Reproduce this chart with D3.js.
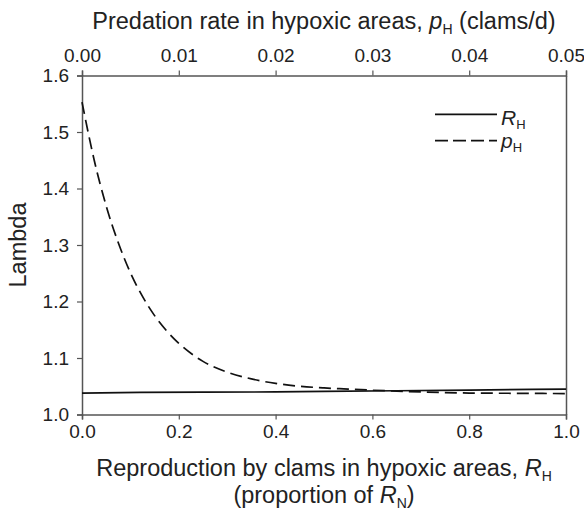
<!DOCTYPE html>
<html>
<head>
<meta charset="utf-8">
<script src="https://cdn.jsdelivr.net/npm/d3@7"></script>
<style>
  html, body { margin: 0; padding: 0; background: #fff; }
  svg { display: block; font-family: "Liberation Sans", Arial, sans-serif; }
  svg text, svg tspan { fill: #222; }
</style>
</head>
<body>
<svg id="chart" width="584" height="510"></svg>
<script>
// ---- data ----
const xBottomTicks = [0.0, 0.2, 0.4, 0.6, 0.8, 1.0];
const xTopTicks = [0.00, 0.01, 0.02, 0.03, 0.04, 0.05];
const yTicks = [1.0, 1.1, 1.2, 1.3, 1.4, 1.5, 1.6];

// R_H series (bottom axis, proportion of R_N)
const rhX = [0.0, 0.12, 0.25, 0.4, 0.5, 0.65, 0.8, 0.93, 1.0];
const rhY = [1.038, 1.039, 1.0395, 1.040, 1.041, 1.042, 1.043, 1.0445, 1.045];

// p_H series (top axis, clams/d)
const phX = [0.0, 0.00125, 0.0025, 0.00375, 0.005, 0.00625, 0.0075, 0.00875, 0.010, 0.0125, 0.015, 0.0175, 0.020, 0.0225, 0.025, 0.0275, 0.030, 0.035, 0.040, 0.045, 0.050];
const phY = [1.553, 1.451, 1.369, 1.304, 1.251, 1.209, 1.175, 1.148, 1.126, 1.094, 1.075, 1.063, 1.055, 1.050, 1.047, 1.045, 1.043, 1.040, 1.038, 1.0375, 1.037];

const legendLabels = ["R", "p"];

// ---- layout ----
const svg = d3.select("#chart");
const mLeft = 82, mRight = 566, mTop = 75.5, mBottom = 414.5;
const axisColor = "#555";
const ink = "#222";

const xB = d3.scaleLinear().domain([0, 1]).range([mLeft, mRight]);
const xT = d3.scaleLinear().domain([0, 0.05]).range([mLeft, mRight]);
const y = d3.scaleLinear().domain([1.0, 1.6]).range([mBottom, mTop]);

const gB = svg.append("g").attr("transform", `translate(0,${mBottom})`)
  .call(d3.axisBottom(xB).tickValues(xBottomTicks).tickFormat(d3.format(".1f")).tickSizeOuter(0).tickSize(5).tickPadding(5));
const gT = svg.append("g").attr("transform", `translate(0,${mTop})`)
  .call(d3.axisTop(xT).tickValues(xTopTicks).tickFormat(d3.format(".2f")).tickSizeOuter(0).tickSize(5).tickPadding(9));
const gL = svg.append("g").attr("transform", `translate(${mLeft},0)`)
  .call(d3.axisLeft(y).tickValues(yTicks).tickFormat(d3.format(".1f")).tickSizeOuter(0).tickSize(5).tickPadding(8));
const gR = svg.append("g").attr("transform", `translate(${mRight},0)`)
  .call(d3.axisRight(y).tickValues([]).tickSizeOuter(0));

[gB, gT, gL, gR].forEach(g => {
  g.select(".domain").attr("stroke", axisColor).attr("stroke-width", 1.5);
  g.selectAll(".tick line").attr("stroke", axisColor).attr("stroke-width", 1.2);
  g.selectAll(".tick text").attr("fill", ink).style("font-size", "19px").style("font-family", "Liberation Sans, Arial, sans-serif");
});

const lineB = d3.line().x((d, i) => xB(rhX[i])).y((d, i) => y(rhY[i]));
svg.append("path").datum(rhY).attr("d", lineB)
  .attr("fill", "none").attr("stroke", "#111").attr("stroke-width", 1.7);

const lineT = d3.line().curve(d3.curveMonotoneX).x((d, i) => xT(phX[i])).y((d, i) => y(phY[i]));
svg.append("path").datum(phY).attr("d", lineT)
  .attr("fill", "none").attr("stroke", "#111").attr("stroke-width", 1.7)
  .attr("stroke-dasharray", "12,6");

const titleFont = "23.5px";
const subFont = "14px";
const cx = (mLeft + mRight) / 2;
function sub(t, txt, dy) {
  t.append("tspan").attr("dy", dy).attr("fill", ink).style("font-size", subFont).text(txt);
}
const topTitle = svg.append("text").attr("x", cx).attr("y", 29)
  .attr("text-anchor", "middle").style("font-size", titleFont).attr("fill", ink);
topTitle.append("tspan").attr("fill", ink).text("Predation rate in hypoxic areas, ");
topTitle.append("tspan").attr("fill", ink).attr("font-style", "italic").text("p");
sub(topTitle, "H", 5);
topTitle.append("tspan").attr("fill", ink).attr("dy", -5).text(" (clams/d)");

const b1 = svg.append("text").attr("x", cx).attr("y", 476)
  .attr("text-anchor", "middle").style("font-size", titleFont).attr("fill", ink);
b1.append("tspan").attr("fill", ink).text("Reproduction by clams in hypoxic areas, ");
b1.append("tspan").attr("fill", ink).attr("font-style", "italic").text("R");
sub(b1, "H", 5);

const b2 = svg.append("text").attr("x", cx).attr("y", 503)
  .attr("text-anchor", "middle").style("font-size", titleFont).attr("fill", ink);
b2.append("tspan").attr("fill", ink).text("(proportion of ");
b2.append("tspan").attr("fill", ink).attr("font-style", "italic").text("R");
sub(b2, "N", 5);
b2.append("tspan").attr("fill", ink).attr("dy", -5).text(")");

svg.append("text").attr("transform", `translate(26,${(mTop + mBottom) / 2}) rotate(-90)`)
  .attr("text-anchor", "middle").style("font-size", titleFont).attr("fill", ink).text("Lambda");

// Legend
const legY = [114.3, 140.7];
const legTextY = [125, 148];
const dashes = [null, "13,5"];
legendLabels.forEach((lab, i) => {
  svg.append("line").attr("x1", 435).attr("x2", 497).attr("y1", legY[i]).attr("y2", legY[i])
    .attr("stroke", "#111").attr("stroke-width", 1.7).attr("stroke-dasharray", dashes[i]);
  const t = svg.append("text").attr("x", 501).attr("y", legTextY[i])
    .style("font-size", "21px").attr("fill", ink);
  t.append("tspan").attr("fill", ink).attr("font-style", "italic").text(lab);
  t.append("tspan").attr("fill", ink).attr("dy", 4).style("font-size", "13px").text("H");
});
</script>
</body>
</html>
